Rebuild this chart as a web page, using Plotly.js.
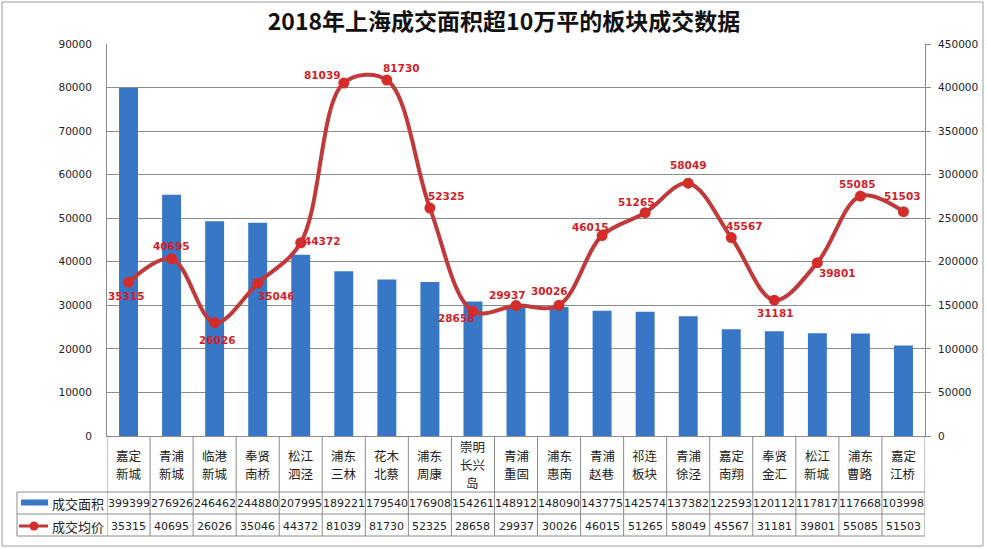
<!DOCTYPE html>
<html>
<head>
<meta charset="utf-8">
<script src="https://cdn.plot.ly/plotly-3.0.1.min.js"></script>
<style>html,body{margin:0;padding:0;background:#fff;}#chart{width:987px;height:549px;}</style>
</head>
<body>
<div id="chart"></div>
<script>
// ---- data ----
const categories = ['嘉定新城','青浦新城','临港新城','奉贤南桥','松江泗泾','浦东三林','花木北蔡','浦东周康','崇明长兴岛','青浦重固','浦东惠南','青浦赵巷','祁连板块','青浦徐泾','嘉定南翔','奉贤金汇','松江新城','浦东曹路','嘉定江桥'];
const categoryLabels = [['嘉定','新城'],['青浦','新城'],['临港','新城'],['奉贤','南桥'],['松江','泗泾'],['浦东','三林'],['花木','北蔡'],['浦东','周康'],['崇明','长兴','岛'],['青浦','重固'],['浦东','惠南'],['青浦','赵巷'],['祁连','板块'],['青浦','徐泾'],['嘉定','南翔'],['奉贤','金汇'],['松江','新城'],['浦东','曹路'],['嘉定','江桥']];
const area = [399399,276926,246462,244880,207995,189221,179540,176908,154261,148912,148090,143775,142574,137382,122593,120112,117817,117668,103998];
const price = [35315,40695,26026,35046,44372,81039,81730,52325,28658,29937,30026,46015,51265,58049,45567,31181,39801,55085,51503];
const seriesNames = ['成交面积','成交均价'];
const titleText = '2018年上海成交面积超10万平的板块成交数据';

// label placement offsets (px) for the price labels
const labelShift = [[-2,-14],[0,13],[3,-17],[19,-13],[22,2],[-21,8],[15,12],[17,12],[-16,-7],[-9,11],[-10,14],[-12,9],[-9,11],[0,18],[13,12],[1,-13],[20,-10],[-3,12],[-1,16]];

// ---- geometry helpers (pixel -> paper) ----
const W = 987, H = 549, L = 107, R = 62, T = 44, B = 113;
const PW = W - L - R, PH = H - T - B;
const px = v => (v - L) / PW;
const py = v => (H - B - v) / PH;

const gridCol = '#8a8a8a';
const barColor = '#3877c6';
const lineColor = '#c0393b';
const markerColor = '#d42b2b';
const labelColor = '#d21f27';

const traces = [
  {
    type: 'bar', name: seriesNames[0], x: categories, y: area,
    yaxis: 'y', width: 0.44,
    marker: {color: barColor, line: {width: 0}},
    hoverinfo: 'x+y'
  },
  {
    type: 'scatter', mode: 'lines+markers', name: seriesNames[1], x: categories, y: price,
    yaxis: 'y2',
    line: {color: lineColor, width: 4, shape: 'spline', smoothing: 1},
    marker: {color: markerColor, size: 11, line: {width: 0}},
    hoverinfo: 'x+y'
  }
];

const annotations = [];
// price labels
price.forEach((v, i) => {
  annotations.push({
    x: categories[i], y: v, xref: 'x', yref: 'y2', text: String(v), showarrow: false,
    xshift: labelShift[i][0], yshift: labelShift[i][1],
    font: {family: 'DejaVu Sans', size: 10.5, color: labelColor, weight: 'bold'},
    xanchor: 'center', yanchor: 'middle'
  });
});
// table: category labels (one annotation per line, centred in the cell)
const lineGap = 18;
categoryLabels.forEach((lines, i) => {
  const n = lines.length;
  lines.forEach((t, k) => {
    const yPix = 464 + (k - (n - 1) / 2) * lineGap;
    annotations.push({
      x: categories[i], y: py(yPix), xref: 'x', yref: 'paper', text: t, showarrow: false,
      font: {family: 'Noto Sans CJK SC', size: 12.5, color: '#222'}, xanchor: 'center', yanchor: 'middle'
    });
  });
});
// table: value rows
area.forEach((v, i) => {
  annotations.push({
    x: categories[i], y: py(503), xref: 'x', yref: 'paper', text: String(v), showarrow: false,
    font: {family: 'DejaVu Sans', size: 11, color: '#222'}, xanchor: 'center', yanchor: 'middle'
  });
});
price.forEach((v, i) => {
  annotations.push({
    x: categories[i], y: py(526), xref: 'x', yref: 'paper', text: String(v), showarrow: false,
    font: {family: 'DejaVu Sans', size: 11, color: '#222'}, xanchor: 'center', yanchor: 'middle'
  });
});
// legend texts in table
annotations.push({x: px(50), y: py(503), xref: 'paper', yref: 'paper', text: seriesNames[0], showarrow: false,
  font: {family: 'Noto Sans CJK SC', size: 13, color: '#222'}, xanchor: 'left', yanchor: 'middle'});
annotations.push({x: px(50), y: py(526), xref: 'paper', yref: 'paper', text: seriesNames[1], showarrow: false,
  font: {family: 'Noto Sans CJK SC', size: 13, color: '#222'}, xanchor: 'left', yanchor: 'middle'});

const shapes = [];
const lineStyle = {color: gridCol, width: 1};
// outer border
shapes.push({type: 'rect', xref: 'paper', yref: 'paper', x0: px(2), x1: px(983), y0: py(546), y1: py(2), line: {color: '#9a9a9a', width: 1}, layer: 'below'});
// horizontal table lines
[492, 514, 536].forEach(v => shapes.push({type: 'line', xref: 'paper', yref: 'paper', x0: px(17), x1: 1, y0: py(v), y1: py(v), line: lineStyle}));
// vertical table lines at category boundaries
for (let i = 0; i <= categories.length; i++) {
  shapes.push({type: 'line', xref: 'x', yref: 'paper', x0: i - 0.5, x1: i - 0.5, y0: 0, y1: py(536), line: lineStyle});
}
// left border of legend column
shapes.push({type: 'line', xref: 'paper', yref: 'paper', x0: px(17), x1: px(17), y0: py(492), y1: py(536), line: lineStyle});
// legend keys
shapes.push({type: 'rect', xref: 'paper', yref: 'paper', x0: px(21), x1: px(48), y0: py(505.5), y1: py(499.5), fillcolor: barColor, line: {width: 0}});
shapes.push({type: 'line', xref: 'paper', yref: 'paper', x0: px(19), x1: px(48), y0: py(526), y1: py(526), line: {color: lineColor, width: 3}});
shapes.push({type: 'circle', xref: 'paper', yref: 'paper', x0: px(29.5), x1: px(38.5), y0: py(530.5), y1: py(521.5), fillcolor: markerColor, line: {width: 0}});

const layout = {
  width: W, height: H,
  margin: {l: L, r: R, t: T, b: B},
  paper_bgcolor: '#fff', plot_bgcolor: '#fff',
  showlegend: false,
  title: {text: titleText, x: 504 / W, xref: 'container', xanchor: 'center', y: 1 - 22 / H, yref: 'container', yanchor: 'middle',
    font: {family: 'Noto Sans CJK SC', size: 23, color: '#111', weight: 'bold'}},
  xaxis: {type: 'category', range: [-0.5, categories.length - 0.5], showticklabels: false, ticks: '',
    showgrid: false, showline: true, linecolor: gridCol, linewidth: 1, zeroline: false, fixedrange: true},
  yaxis: {side: 'right', range: [0, 450000], dtick: 50000, tick0: 0, tickformat: 'd', showgrid: true, gridcolor: gridCol, gridwidth: 1,
    showline: true, linecolor: gridCol, linewidth: 1, ticks: 'outside', ticklen: 5, tickcolor: gridCol,
    zeroline: false, tickfont: {family: 'DejaVu Sans', size: 10.5, color: '#222'}, ticklabelstandoff: 5, fixedrange: true},
  yaxis2: {overlaying: 'y', side: 'left', range: [0, 90000], dtick: 10000, tick0: 0, tickformat: 'd', showgrid: false,
    showline: true, linecolor: gridCol, linewidth: 1, ticks: '', zeroline: false,
    tickfont: {family: 'DejaVu Sans', size: 10.5, color: '#222'}, ticklabelstandoff: 12, fixedrange: true},
  annotations: annotations,
  shapes: shapes
};

Plotly.newPlot('chart', traces, layout, {displayModeBar: false, staticPlot: true});
</script>
</body>
</html>
